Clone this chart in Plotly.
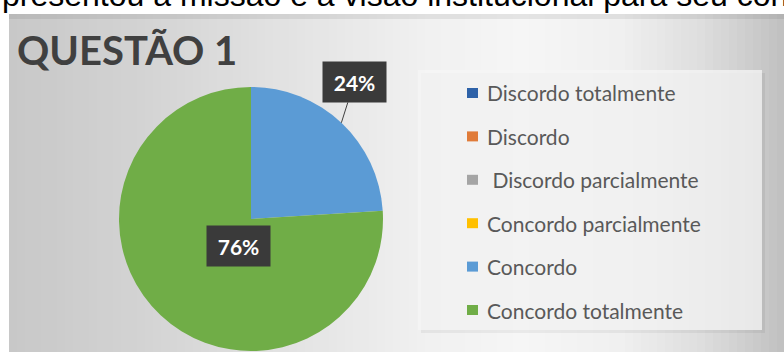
import math
import plotly.graph_objects as go

# ---------------- data ----------------
categories = ["Discordo totalmente", "Discordo", " Discordo parcialmente",
              "Concordo parcialmente", "Concordo", "Concordo totalmente"]
values = [0, 0, 0, 0, 24, 76]
colors = ["#2E62A8", "#E07B39", "#A5A5A5", "#FFC000", "#5B9BD5", "#70AD47"]
chart_title = "QUESTÃO 1"
header_text = "presentou a missão e a visão institucional para seu con"

# ---------------- geometry (pixels) ----------------
W, H = 784, 352
cx, cy, R = 251, 219, 132


def px(x):
    return x / W


def py(y):
    return 1 - y / H


fig = go.Figure()

fig.add_trace(go.Pie(
    labels=categories, values=values,
    marker=dict(colors=colors, line=dict(width=0)),
    sort=False, direction="clockwise", rotation=0,
    textinfo="none", hoverinfo="label+percent", showlegend=False,
    domain=dict(x=[px(cx - R), px(cx + R)], y=[py(cy + R), py(cy - R)]),
))

shapes = []
# background gradient of the embedded chart picture
stops = [(9, 200), (60, 204), (150, 212), (300, 228), (420, 240), (520, 246),
         (620, 240), (700, 222), (750, 205), (784, 192)]


def grad(x):
    for (x0, c0), (x1, c1) in zip(stops[:-1], stops[1:]):
        if x0 <= x <= x1:
            return c0 + (c1 - c0) * (x - x0) / (x1 - x0)
    return stops[-1][1]


step = 8
x = 9
while x < W:
    c = int(round(grad(x + step / 2)))
    shapes.append(dict(type="rect", xref="paper", yref="paper",
                       x0=px(x), x1=px(min(x + step + 0.5, W)), y0=0, y1=py(14),
                       fillcolor=f"rgb({c},{c},{c})", line=dict(width=0), layer="below"))
    x += step
# darker top edge band
shapes.append(dict(type="rect", xref="paper", yref="paper", x0=px(9), x1=1,
                   y0=py(19), y1=py(14), fillcolor="rgba(0,0,0,0.07)",
                   line=dict(width=0), layer="below"))
# legend panel with soft shadow
shapes.append(dict(type="rect", xref="paper", yref="paper", x0=px(421), x1=px(765),
                   y0=py(333), y1=py(73), fillcolor="rgba(0,0,0,0.05)",
                   line=dict(width=0), layer="below"))
shapes.append(dict(type="rect", xref="paper", yref="paper", x0=px(418), x1=px(762),
                   y0=py(330), y1=py(70), fillcolor="rgba(246,246,246,0.75)",
                   line=dict(width=0), layer="below"))

annotations = []
# header line (cut off at the top)
annotations.append(dict(text=header_text, xref="paper", yref="paper",
                        x=px(0), y=py(-5.5), xanchor="left", yanchor="middle",
                        showarrow=False,
                        font=dict(family="Liberation Sans, Arial", size=32, color="#000000")))
# chart title
annotations.append(dict(text="<b>" + chart_title + "</b>", xref="paper", yref="paper",
                        x=px(15), y=py(50), xanchor="left", yanchor="middle",
                        showarrow=False,
                        font=dict(family="Lato, Open Sans", size=40, color="#404040")))

# data labels, placed from slice angles
total = sum(values)
cum = 0
for lab, v in zip(categories, values):
    if v == 0:
        cum += v
        continue
    mid = (cum + v / 2) / total * 2 * math.pi
    cum += v
    frac = v / total
    txt = f"<b>{round(frac * 100)}%</b>"
    common = dict(text=txt, xref="paper", yref="paper", bgcolor="#3A3A3A",
                  borderpad=4, width=55, height=32,
                  font=dict(family="Lato, Open Sans", size=21, color="#FFFFFF"))
    if frac < 0.3:
        ex, ey = cx + R * math.sin(mid), cy - R * math.cos(mid)
        annotations.append(dict(x=px(ex), y=py(ey), showarrow=True, arrowhead=0,
                                arrowwidth=1, arrowcolor="#404040", ax=13, ay=-41,
                                **common))
    else:
        lx, ly = cx + 0.5 * R * math.sin(mid), cy - 0.5 * R * math.cos(mid)
        annotations.append(dict(x=px(lx), y=py(ly), showarrow=False, **common))

# custom legend
for i, (lab, col) in enumerate(zip(categories, colors)):
    ry = 93 + i * 43.4
    shapes.append(dict(type="rect", xref="paper", yref="paper",
                       x0=px(467), x1=px(478), y0=py(ry + 5), y1=py(ry - 5),
                       fillcolor=col, line=dict(width=0)))
    annotations.append(dict(text=lab.replace(" ", "\u00a0", 1) if lab.startswith(" ") else lab,
                            xref="paper", yref="paper", x=px(485), y=py(ry),
                            xanchor="left", yanchor="middle", showarrow=False,
                            font=dict(family="Lato, Open Sans", size=21, color="#595959")))

fig.update_layout(
    width=W, height=H, margin=dict(l=0, r=0, t=0, b=0),
    paper_bgcolor="#FFFFFF", plot_bgcolor="#FFFFFF",
    shapes=shapes, annotations=annotations, showlegend=False,
)

fig.write_html("out.html", config={"displayModeBar": False},
               post_script="document.body.style.margin='0';")
